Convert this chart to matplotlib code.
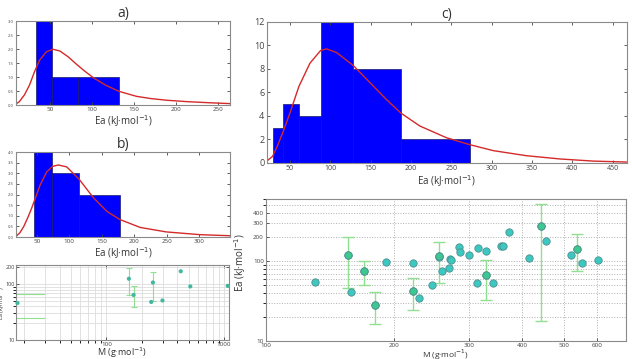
import matplotlib.pyplot as plt
import numpy as np
from matplotlib.ticker import FixedLocator, NullFormatter, NullLocator

plt.rcParams['font.family'] = ['Open Sans', 'DejaVu Sans']

# --- histogram a) ---
a_edges = [34, 53, 84, 132]
a_counts = [3, 1, 1]
a_curve_x = [10, 14, 20, 26, 32, 38, 46, 54, 62, 72, 82, 92, 102, 117, 132, 153, 170, 189, 213, 240, 264]
a_curve_y = [0.04, 0.12, 0.36, 0.71, 1.19, 1.6, 1.9, 1.99, 1.93, 1.72, 1.45, 1.2, 0.97, 0.7, 0.49, 0.31, 0.23, 0.17, 0.12, 0.08, 0.05]

# --- histogram b) ---
b_edges = [46, 74, 115, 178]
b_counts = [4, 3, 2]
b_curve_x = [18, 24, 30, 36, 42, 48, 55, 65, 74, 83, 96, 115, 137, 158, 178, 209, 249, 301, 347]
b_curve_y = [0.03, 0.2, 0.5, 0.9, 1.35, 1.85, 2.44, 3.05, 3.32, 3.39, 3.3, 2.72, 1.85, 1.2, 0.82, 0.45, 0.24, 0.11, 0.06]

# --- histogram c) ---
c_edges = [28.6, 41.7, 61.1, 88, 128.4, 187.4, 272.8]
c_counts = [3, 5, 4, 12, 8, 2]
c_curve_x = [21, 28.6, 34.3, 41.7, 50, 61.1, 74.8, 88, 95.4, 107.8, 128.4, 149, 169.6,
             187.4, 210.9, 243.9, 272.8, 302, 343, 385, 426, 467]
c_curve_y = [0.14, 0.57, 1.42, 2.69, 4.25, 6.51, 8.49, 9.57, 9.71, 9.4, 8.3, 6.85, 5.4,
             4.25, 3.15, 2.15, 1.56, 1.05, 0.62, 0.34, 0.16, 0.08]

# --- Ea vs M, small panel ---
s_M = [17.5, 155, 170, 248, 240, 299, 428, 516, 1075]
s_Ea = [46, 125, 64, 107, 48, 51, 170, 91, 93]
s_err_M = [155, 170, 248]
s_err_Ea = [125, 64, 107]
s_err_lo = [64, 39, 49]
s_err_hi = [192, 92, 163]
s_hline_Ea = [67, 24.7]
s_hline_M = [17, 29.5]

# --- Ea vs M, large panel ---
M = [130, 156, 158, 170, 180, 191, 221, 221, 229, 245, 255, 255, 259, 269, 271, 272,
     284, 286, 300, 312, 314, 328, 328, 342, 356, 361, 371, 414, 441, 455, 519, 537, 551, 602]
Ea = [55, 121, 41, 76, 28, 97, 94, 42, 34.5, 50, 116, 112, 76, 83, 107, 104,
      151, 131, 119, 54, 147, 134, 68, 54, 154, 154, 232, 108, 272, 179, 119, 144, 96, 102]
err_M = [156, 170, 180, 221, 255, 328, 441, 537]
err_Ea = [121, 76, 28, 42, 116, 68, 272, 144]
err_lo = [46, 51, 16.2, 24.2, 53, 33, 17.8, 75]
err_hi = [198, 101, 40.6, 61, 174, 104, 526, 216]

M_ticks = [100, 200, 300, 400, 500, 600]
Ea_ticks = [10, 100, 200, 300, 400]
s_M_ticks = [100, 1000]
s_Ea_ticks = [10, 100, 200]

fig = plt.figure(figsize=(6.32, 3.59), dpi=100)

frame = '#8a8a8a'
blue = '#0000ff'
red = '#d42a2a'
green = '#8fe08f'
teal = '#3cc8c0'
txt = '#333333'


def style(ax, size=4):
    for s in ax.spines.values():
        s.set_color(frame)
        s.set_linewidth(0.8)
    ax.tick_params(direction='in', top=True, right=True, length=2.5, width=0.6,
                   colors='#444444', labelsize=size, pad=1.5)


def hist_panel(rect, edges, counts, cx, cy, xlim, ymax, yticks, title, xticks, ysize, xsize):
    ax = fig.add_axes(rect)
    ax.bar(edges[:-1], counts, width=np.diff(edges), align='edge', color=blue,
           edgecolor='#1a1a6a', linewidth=0.5)
    ax.plot(cx, cy, color=red, lw=1.0)
    ax.set_xlim(xlim)
    ax.set_ylim(0, ymax)
    ax.set_yticks(yticks)
    ax.set_xticks(xticks)
    style(ax)
    ax.tick_params(axis='y', labelsize=ysize)
    ax.tick_params(axis='x', labelsize=xsize)
    ax.set_title(title, fontsize=10, pad=3, color=txt)
    ax.set_xlabel('Ea (kJ·mol$^{-1}$)', fontsize=7, labelpad=1, color=txt)
    return ax


hist_panel([0.0253, 0.7075, 0.3386, 0.234], a_edges, a_counts, a_curve_x, a_curve_y,
           (10, 264), 3, [0, 0.5, 1, 1.5, 2, 2.5, 3], 'a)', [50, 100, 150, 200, 250], 3, 4.5)
hist_panel([0.0253, 0.3398, 0.3386, 0.2368], b_edges, b_counts, b_curve_x, b_curve_y,
           (18, 347), 4, [0, 0.5, 1, 1.5, 2, 2.5, 3, 3.5, 4], 'b)', [50, 100, 150, 200, 250, 300], 3, 4.5)
hist_panel([0.4217, 0.546, 0.5696, 0.3928], c_edges, c_counts, c_curve_x, c_curve_y,
           (21, 467), 12, [0, 2, 4, 6, 8, 10, 12], 'c)',
           [50, 100, 150, 200, 250, 300, 350, 400, 450], 6.5, 5)

# small scatter
ax = fig.add_axes([0.0253, 0.0529, 0.337, 0.2089])
ax.set_xscale('log')
ax.set_yscale('log')
for y in s_hline_Ea:
    ax.plot(s_hline_M, [y, y], color=green, lw=0.8)
lo = np.array(s_err_Ea) - np.array(s_err_lo)
hi = np.array(s_err_hi) - np.array(s_err_Ea)
ax.errorbar(s_err_M, s_err_Ea, yerr=[lo, hi], fmt='none', ecolor=green, elinewidth=0.8,
            capsize=2.5, capthick=0.8)
ax.scatter(s_M, s_Ea, s=9, color='#40b8a0', edgecolor='none', zorder=3, clip_on=False)
ax.set_xlim(17, 1100)
ax.set_ylim(10, 220)
ax.grid(True, which='both', color='#dddddd', lw=0.6)
ax.yaxis.set_major_locator(FixedLocator(s_Ea_ticks))
ax.yaxis.set_minor_formatter(NullFormatter())
ax.set_yticklabels([str(t) for t in s_Ea_ticks])
ax.xaxis.set_major_locator(FixedLocator(s_M_ticks))
ax.set_xticklabels([str(t) for t in s_M_ticks])
ax.xaxis.set_minor_formatter(NullFormatter())
style(ax, 4.5)
ax.tick_params(axis='y', pad=1, labelsize=4)
ax.set_xlabel('M (g·mol$^{-1}$)', fontsize=6.5, color=txt)
ax.xaxis.set_label_coords(0.5, -0.08)
ax.set_ylabel('Ea (kJ·mol$^{-1}$)', fontsize=4, color=txt)
ax.yaxis.set_label_coords(-0.04, 0.5)

# large scatter
ax = fig.add_axes([0.4209, 0.0501, 0.5696, 0.3955])
ax.set_xscale('log')
ax.set_yscale('log')
lo = np.array(err_Ea) - np.array(err_lo)
hi = np.array(err_hi) - np.array(err_Ea)
ax.errorbar(err_M, err_Ea, yerr=[lo, hi], fmt='none', ecolor=green, elinewidth=1.0,
            capsize=4, capthick=1.0, zorder=2)
ax.scatter(M, Ea, s=28, color=teal, edgecolor='#4f8f8f', linewidth=0.6, zorder=3)
ax.scatter(err_M, err_Ea, s=28, color='#3cc890', edgecolor='#4f8f8f', linewidth=0.6, zorder=4)
ax.set_xlim(100, 700)
ax.set_ylim(10, 600)
ax.xaxis.set_major_locator(FixedLocator(M_ticks))
ax.xaxis.set_minor_locator(NullLocator())
ax.set_xticklabels([str(t) for t in M_ticks])
ax.yaxis.set_major_locator(FixedLocator(Ea_ticks))
ax.set_yticklabels([str(t) for t in Ea_ticks])
ax.yaxis.set_minor_formatter(NullFormatter())
ax.grid(True, which='both', axis='y', color='#b0b0b0', lw=0.7, ls=':')
ax.grid(True, which='major', axis='x', color='#b0b0b0', lw=0.7, ls=':')
style(ax, 4.5)
ax.tick_params(top=False, right=False)
ax.set_xlabel('M (g·mol$^{-1}$)', fontsize=6, color=txt)
ax.xaxis.set_label_coords(0.5, -0.045)
ax.set_ylabel('Ea (kJ·mol$^{-1}$)', fontsize=7, color=txt)
ax.yaxis.set_label_coords(-0.05, 0.55)

fig.savefig('out.png', dpi=100)
